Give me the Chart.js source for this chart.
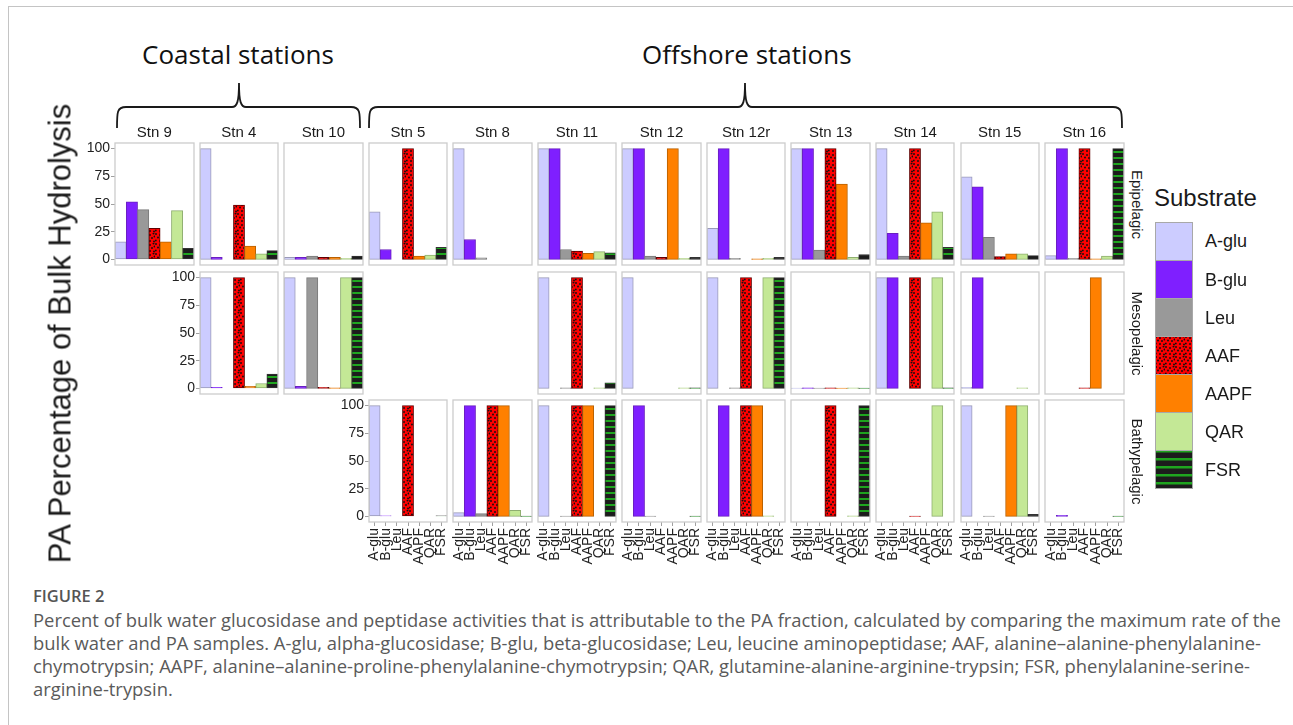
<!DOCTYPE html>
<html>
<head>
<meta charset="utf-8">
<script src="https://cdn.jsdelivr.net/npm/chart.js@4.4.1/dist/chart.umd.min.js"></script>
<style>
  html, body { margin: 0; padding: 0; background: #fff; }
  body { width: 1293px; height: 725px; position: relative; overflow: hidden;
         font-family: "Liberation Sans", Arial, sans-serif; color: #1a1a1a; }
  #frame { position: absolute; left: 8px; top: 6px; width: 1400px; height: 800px;
           border-left: 1px solid #c4c4c4; border-top: 1px solid #c4c4c4; }
  .panelBox { position: absolute; }
  .t { position: absolute; white-space: nowrap; line-height: 1; }
  .cap { position: absolute; left: 33px; white-space: nowrap; font-family: "Open Sans", sans-serif;
         color: #5a5a5a; line-height: 1; }
  #braces { position: absolute; left: 0; top: 0; }
</style>
</head>
<body>
<div id="frame"></div>
<svg id="braces" width="1293" height="140"></svg>
<div id="root"></div>

<script>
// ---- data ----------------------------------------------------------------
const substrates = ['A-glu', 'B-glu', 'Leu', 'AAF', 'AAPF', 'QAR', 'FSR'];
const stations = ['Stn 9', 'Stn 4', 'Stn 10', 'Stn 5', 'Stn 8', 'Stn 11',
                  'Stn 12', 'Stn 12r', 'Stn 13', 'Stn 14', 'Stn 15', 'Stn 16'];
const depthLayers = ['Epipelagic', 'Mesopelagic', 'Bathypelagic'];
const yTicks = [0, 25, 50, 75, 100];

// percent of bulk hydrolysis in the PA fraction, one row per station (null = not sampled)
const epipelagic = [
  [16, 52, 45, 28, 16, 44, 10],
  [100, 2, 0, 49, 12, 5, 8],
  [2, 2, 3, 2, 2, 1, 3],
  [43, 9, 0, 100, 3, 4, 11],
  [100, 18, 1.5, 0, 0, 0, 0],
  [100, 100, 9, 7.5, 5.5, 7, 6],
  [100, 100, 3, 2, 100, 1, 2],
  [28, 100, 1, 0, 0.5, 1, 2],
  [100, 100, 8.5, 100, 68, 2, 4.5],
  [100, 23.5, 3, 100, 33, 43, 11],
  [74.5, 65.5, 20, 2.5, 5, 5, 3.5],
  [3.5, 100, 1, 100, 0.5, 3, 100]
];
const mesopelagic = [
  null,
  [100, 1, 0, 100, 2, 4.5, 13],
  [100, 2, 100, 1, 0.5, 100, 100],
  null,
  null,
  [100, 0, 0.5, 100, 0, 0.5, 5],
  [100, 0, 0, 0, 0, 0.5, 0.5],
  [100, 0, 0.5, 100, 0, 100, 100],
  [0.3, 0.5, 0.3, 0.5, 0.3, 0.5, 0.3],
  [100, 100, 0, 100, 0, 100, 0.5],
  [1, 100, 0, 0, 0, 0.5, 0],
  [0, 0, 0, 0.5, 100, 0, 0]
];
const bathypelagic = [
  null,
  null,
  null,
  [100, 0.6, 0, 100, 0, 0, 0.6],
  [3.5, 100, 2.5, 100, 100, 5.5, 0.3],
  [100, 0, 0.3, 100, 100, 0, 100],
  [0, 100, 0.3, 0, 0, 0, 0.3],
  [0, 100, 0, 100, 100, 0.5, 0],
  [0, 0, 0, 100, 0, 0.5, 100],
  [0, 0, 0, 0.3, 0, 100, 0],
  [100, 0, 0.3, 0, 100, 100, 2],
  [0, 1, 0, 0, 0, 0, 0.3]
];
const layerValues = [epipelagic, mesopelagic, bathypelagic];

// ---- fills -----------------------------------------------------------------
const substrateColors = ['#ccccff', '#7f1fff', '#999999', '#ff0000', '#ff8000', '#c4e896', '#1c1c1c'];

function dottedRed() {
  const c = document.createElement('canvas');
  c.width = 10; c.height = 10;
  const g = c.getContext('2d');
  g.fillStyle = '#ff0000'; g.fillRect(0, 0, 10, 10);
  g.fillStyle = '#111';
  [[1, 1], [5, 2], [8.5, 0.5], [3, 4.5], [7, 5], [0.8, 7.5], [5, 8], [9, 8.5], [9.5, 3.5]].forEach(([x, y]) => {
    g.beginPath(); g.arc(x, y, 0.95, 0, Math.PI * 2); g.fill();
  });
  return g.createPattern(c, 'repeat');
}
function stripedGreen(period, band) {
  const c = document.createElement('canvas');
  c.width = 4; c.height = period;
  const g = c.getContext('2d');
  g.fillStyle = '#1c1c1c'; g.fillRect(0, 0, 4, period);
  g.fillStyle = '#1fa51f'; g.fillRect(0, 0, 4, band);
  return g.createPattern(c, 'repeat');
}
const barFills = substrateColors.slice();
barFills[3] = dottedRed();
barFills[6] = stripedGreen(6, 2);
const barEdges = ['#9a9ab8', '#6a20c0', '#7a7a7a', '#600000', '#b86000', '#8fae70', '#333333'];

// ---- geometry ---------------------------------------------------------------
const COL_X0 = 115, COL_PITCH = 84.55, PANEL_W = 78.5;
const ROW_Y = [143, 272, 400], PANEL_H = 122;
const AXW = 40, AXH = 52, PT = 10, PR = 3, PL = 3, PB = 3;
const TICK_FONT = { family: '"Liberation Sans", Arial, sans-serif', size: 14 };

const panelFrame = {
  id: 'panelFrame',
  afterDatasetsDraw(chart) {
    const { ctx, chartArea: a } = chart;
    ctx.save();
    ctx.strokeStyle = '#cccccc';
    ctx.lineWidth = 1.3;
    ctx.strokeRect(a.left, a.top, a.right - a.left, a.bottom - a.top);
    ctx.restore();
  }
};

const root = document.getElementById('root');

function addText(txt, css) {
  const d = document.createElement('div');
  d.className = 't';
  d.textContent = txt;
  Object.assign(d.style, css);
  root.appendChild(d);
  return d;
}

layerValues.forEach((rows, r) => {
  const firstCol = rows.findIndex(v => v !== null);
  rows.forEach((vals, c) => {
    if (!vals) return;
    const hasY = c === firstCol;
    const hasX = r === 2;
    const x0 = Math.round(COL_X0 + c * COL_PITCH);
    const x1 = Math.round(COL_X0 + c * COL_PITCH + PANEL_W);
    const pw = x1 - x0;
    const lw = hasY ? AXW : PL;
    const W = lw + pw + PR;
    const H = PT + PANEL_H + (hasX ? AXH : PB);
    const box = document.createElement('div');
    box.className = 'panelBox';
    Object.assign(box.style, { left: (x0 - lw) + 'px', top: (ROW_Y[r] - PT) + 'px', width: W + 'px', height: H + 'px' });
    const cv = document.createElement('canvas');
    cv.width = W; cv.height = H;
    cv.style.width = W + 'px'; cv.style.height = H + 'px';
    box.appendChild(cv);
    root.appendChild(box);

    new Chart(cv, {
      type: 'bar',
      data: {
        labels: substrates,
        datasets: [{
          data: vals,
          backgroundColor: barFills,
          borderColor: barEdges,
          borderWidth: 1,
          borderSkipped: false,
          categoryPercentage: 1,
          barPercentage: 1
        }]
      },
      options: {
        responsive: false,
        maintainAspectRatio: false,
        animation: false,
        devicePixelRatio: 1,
        events: [],
        layout: { padding: { top: PT, right: PR, left: hasY ? 0 : PL, bottom: hasX ? 0 : PB } },
        plugins: { legend: { display: false }, tooltip: { enabled: false } },
        scales: {
          x: {
            display: hasX,
            offset: true,
            grid: { display: true, offset: false, drawOnChartArea: false, drawTicks: true, tickLength: 4, color: '#a0a0a0' },
            border: { display: false },
            ticks: { minRotation: 90, maxRotation: 90, autoSkip: false, padding: 2, color: '#222', font: TICK_FONT },
            afterFit(s) { if (hasX) { s.height = AXH; s.paddingLeft = 0; s.paddingRight = 0; } }
          },
          y: {
            display: hasY,
            min: -5,
            max: 105,
            afterBuildTicks(s) { s.ticks = yTicks.map(v => ({ value: v })); },
            grid: { drawOnChartArea: false, drawTicks: true, tickLength: 4, color: '#a0a0a0' },
            border: { display: false },
            ticks: { padding: 1, color: '#222', font: TICK_FONT },
            afterFit(s) { if (hasY) { s.width = AXW; s.paddingTop = 0; s.paddingBottom = 0; } }
          }
        }
      },
      plugins: [panelFrame]
    });
  });
});

// station strip labels above the top row
stations.forEach((s, c) => {
  const cx = COL_X0 + c * COL_PITCH + PANEL_W / 2;
  addText(s, { left: (cx - 40) + 'px', width: '80px', textAlign: 'center', top: '124px', fontSize: '15px' });
});

// depth strip labels on the right
depthLayers.forEach((d, r) => {
  const cy = ROW_Y[r] + PANEL_H / 2;
  addText(d, { left: (1137 - 60) + 'px', top: (cy - 7.5) + 'px', width: '120px', textAlign: 'center',
               fontSize: '15px', transform: 'rotate(90deg)', transformOrigin: '50% 50%' });
});

// overall y title
addText('PA Percentage of Bulk Hydrolysis', {
  left: (60 - 250) + 'px', top: (333 - 15.5) + 'px', width: '500px', textAlign: 'center',
  fontSize: '31px', transform: 'rotate(-90deg)', transformOrigin: '50% 50%'
});

// group headings
addText('Coastal stations', { left: '138px', width: '200px', textAlign: 'center', top: '41px',
  fontSize: '26px', fontFamily: '"Open Sans", sans-serif', color: '#111' });
addText('Offshore stations', { left: '642px', width: '200px', textAlign: 'center', top: '41px',
  fontSize: '26px', fontFamily: '"Open Sans", sans-serif', color: '#111' });

// braces
(function () {
  const svg = document.getElementById('braces');
  function brace(x1, x2, cx) {
    const yT = 107, yE = 128, yP = 83;
    return `M${x1} ${yE} C${x1} ${yT + 5} ${x1} ${yT} ${x1 + 9} ${yT} ` +
           `L${cx - 7} ${yT} C${cx - 2} ${yT} ${cx} ${yT - 5} ${cx} ${yP} ` +
           `C${cx} ${yT - 5} ${cx + 2} ${yT} ${cx + 7} ${yT} ` +
           `L${x2 - 9} ${yT} C${x2} ${yT} ${x2} ${yT + 5} ${x2} ${yE}`;
  }
  [[117, 360, 239], [369, 1122, 745]].forEach(([a, b, c]) => {
    const p = document.createElementNS('http://www.w3.org/2000/svg', 'path');
    p.setAttribute('d', brace(a, b, c));
    p.setAttribute('fill', 'none');
    p.setAttribute('stroke', '#1a1a1a');
    p.setAttribute('stroke-width', '1.8');
    svg.appendChild(p);
  });
})();

// legend
addText('Substrate', { left: '1154px', top: '186px', fontSize: '24px' });
substrates.forEach((s, i) => {
  const top = 221.7 + i * 38.1;
  const sw = document.createElement('canvas');
  sw.width = 38; sw.height = 39;
  sw.style.position = 'absolute';
  sw.style.left = '1155px';
  sw.style.top = Math.round(top) + 'px';
  const g = sw.getContext('2d');
  g.fillStyle = i === 3 ? dottedRed() : i === 6 ? stripedGreen(8, 2.5) : substrateColors[i];
  g.fillRect(0, 0, 38, 39);
  g.strokeStyle = '#a8a8a8';
  g.lineWidth = 1;
  g.strokeRect(0.5, 0.5, 37, 38);
  root.appendChild(sw);
  addText(s, { left: '1205px', top: (top + 26 - 0.8465 * 18) + 'px', fontSize: '18px' });
});

// caption
const caption = [
  'Percent of bulk water glucosidase and peptidase activities that is attributable to the PA fraction, calculated by comparing the maximum rate of the',
  'bulk water and PA samples. A-glu, alpha-glucosidase; B-glu, beta-glucosidase; Leu, leucine aminopeptidase; AAF, alanine\u2013alanine-phenylalanine-',
  'chymotrypsin; AAPF, alanine\u2013alanine-proline-phenylalanine-chymotrypsin; QAR, glutamine-alanine-arginine-trypsin; FSR, phenylalanine-serine-',
  'arginine-trypsin.'
];
(function () {
  const f = document.createElement('div');
  f.className = 'cap';
  f.textContent = 'FIGURE 2';
  Object.assign(f.style, { top: (603 - 0.888 * 16.5) + 'px', fontSize: '16.5px', fontWeight: '600', color: '#555' });
  root.appendChild(f);
  caption.forEach((line, i) => {
    const d = document.createElement('div');
    d.className = 'cap';
    d.textContent = line;
    Object.assign(d.style, { top: (627 + i * 23 - 0.888 * 18.4) + 'px', fontSize: '18.4px' });
    root.appendChild(d);
  });
})();
</script>
</body>
</html>
